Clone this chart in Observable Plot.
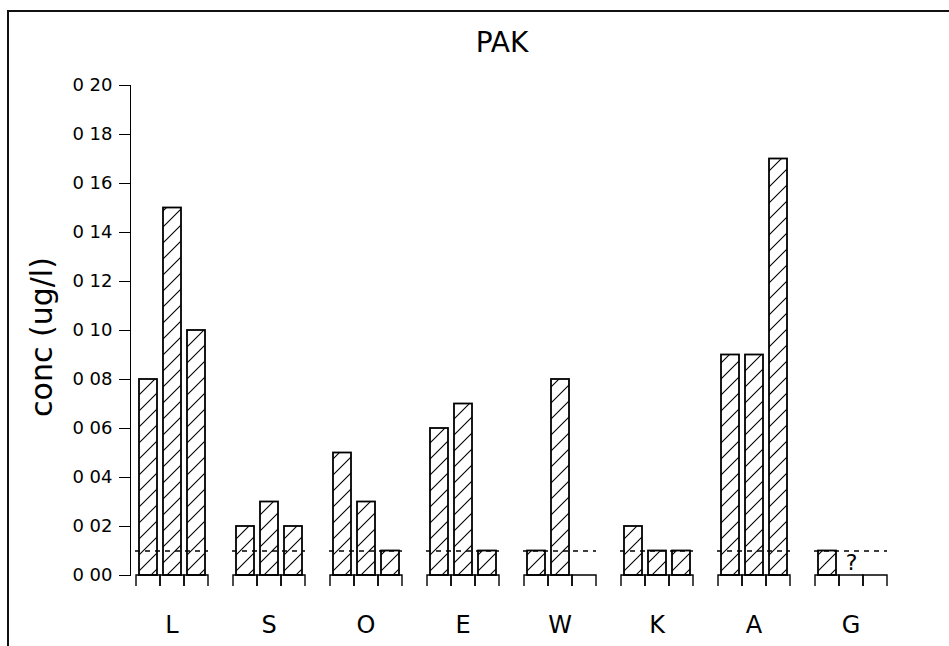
<!DOCTYPE html>
<html>
<head>
<meta charset="utf-8">
<script src="https://cdn.jsdelivr.net/npm/d3@7"></script>
<script src="https://cdn.jsdelivr.net/npm/@observablehq/plot@0.6"></script>
<style>
  html, body { margin: 0; padding: 0; background: #fff; }
  body { position: relative; width: 949px; height: 646px; overflow: hidden; font-family: "DejaVu Sans", sans-serif; color: #000; }
  #frame { position: absolute; left: 7px; top: 10px; width: 1000px; height: 700px; border-left: 2px solid #111; border-top: 2px solid #111; }
  #chart { position: absolute; left: 0; top: 0; }
  #title { position: absolute; left: 0; width: 1004px; top: 29px; text-align: center; font-size: 28px; line-height: 28px; }
  #ylabel { position: absolute; left: 42px; top: 337px; transform: translate(-50%, -50%) rotate(-90deg); font-size: 30px; line-height: 30px; white-space: nowrap; }
</style>
</head>
<body>
<div id="frame"></div>
<div id="chart"></div>
<div id="title">PAK</div>
<div id="ylabel">conc (ug/l)</div>
<script>
// Sites and the three samples taken at each
const groups = ["L", "S", "O", "E", "W", "K", "A", "G"];
const samples = [1, 2, 3];
const sample1 = [0.08, 0.02, 0.05, 0.06, 0.01, 0.02, 0.09, 0.01];
const sample2 = [0.15, 0.03, 0.03, 0.07, 0.08, 0.01, 0.09, 0.00];
const sample3 = [0.10, 0.02, 0.01, 0.01, 0.00, 0.01, 0.17, 0.00];
const yTicks = [0, 0.02, 0.04, 0.06, 0.08, 0.10, 0.12, 0.14, 0.16, 0.18, 0.20];
const detectionLimit = 0.01;
const notes = [{group: "G", sample: 2, text: "?"}];

const rows = groups.flatMap((g, i) =>
  [sample1, sample2, sample3].map((s, j) => ({group: g, sample: samples[j], conc: s[i]}))
);

const chart = Plot.plot({
  width: 949,
  height: 646,
  marginTop: 85,
  marginBottom: 71,
  marginLeft: 129,
  marginRight: 55.6,
  style: {fontFamily: "DejaVu Sans", fontSize: "18px", color: "black", background: "transparent", overflow: "visible"},
  fx: {domain: groups, paddingInner: 0.247, paddingOuter: 0.051, axis: null, label: null},
  x: {domain: samples, padding: 0, axis: null},
  y: {
    domain: [0, 0.2],
    ticks: yTicks,
    tickFormat: d => d3.format(".2f")(d).replace(".", " "),
    tickSize: 11,
    tickPadding: 7,
    line: true,
    label: null
  },
  marks: [
    // open cells under each sample
    Plot.barY(rows, {fx: "group", x: "sample", y1: 0, y2: 0, insetBottom: -11, fill: "none", stroke: "black", strokeWidth: 1.4}),
    // hatched concentration bars
    Plot.barY(rows.filter(d => d.conc > 0), {fx: "group", x: "sample", y1: 0, y2: "conc", insetLeft: 3, insetRight: 3, fill: "url(#hatch)", stroke: "black", strokeWidth: 1.8}),
    // detection limit
    Plot.ruleY([detectionLimit], {stroke: "black", strokeWidth: 1.3, strokeDasharray: "5,5"}),
    Plot.text(notes, {fx: "group", x: "sample", y: 0, text: "text", dy: -13, fontSize: 22}),
    Plot.text(groups, {fx: d => d, text: d => d, frameAnchor: "bottom", dy: 57, fontSize: 24})
  ]
});

// diagonal hatch used by the bars
const ns = "http://www.w3.org/2000/svg";
const defs = document.createElementNS(ns, "defs");
defs.innerHTML = '<pattern id="hatch" patternUnits="userSpaceOnUse" width="16" height="16">' +
  '<path d="M0,16L16,0M-4,4L4,-4M12,20L20,12" stroke="black" stroke-width="1.1" fill="none"/></pattern>';
chart.insertBefore(defs, chart.firstChild);

// leave the sample cells (first bar mark) open at the bottom
const cellMark = chart.querySelectorAll('g[aria-label="bar"]')[0];
cellMark.querySelectorAll("rect").forEach(r => {
  const w = +r.getAttribute("width"), h = +r.getAttribute("height");
  r.setAttribute("stroke-dasharray", `${w + h} ${w} ${h}`);
});

// the axis (ticks, labels and line) sits a little left of the first site group
chart.querySelectorAll('g[aria-label^="y-axis"], g[aria-label="frame"]').forEach(g => {
  g.setAttribute("transform", `translate(-5,0) ${g.getAttribute("transform") || ""}`);
});

document.getElementById("chart").appendChild(chart);
</script>
</body>
</html>
